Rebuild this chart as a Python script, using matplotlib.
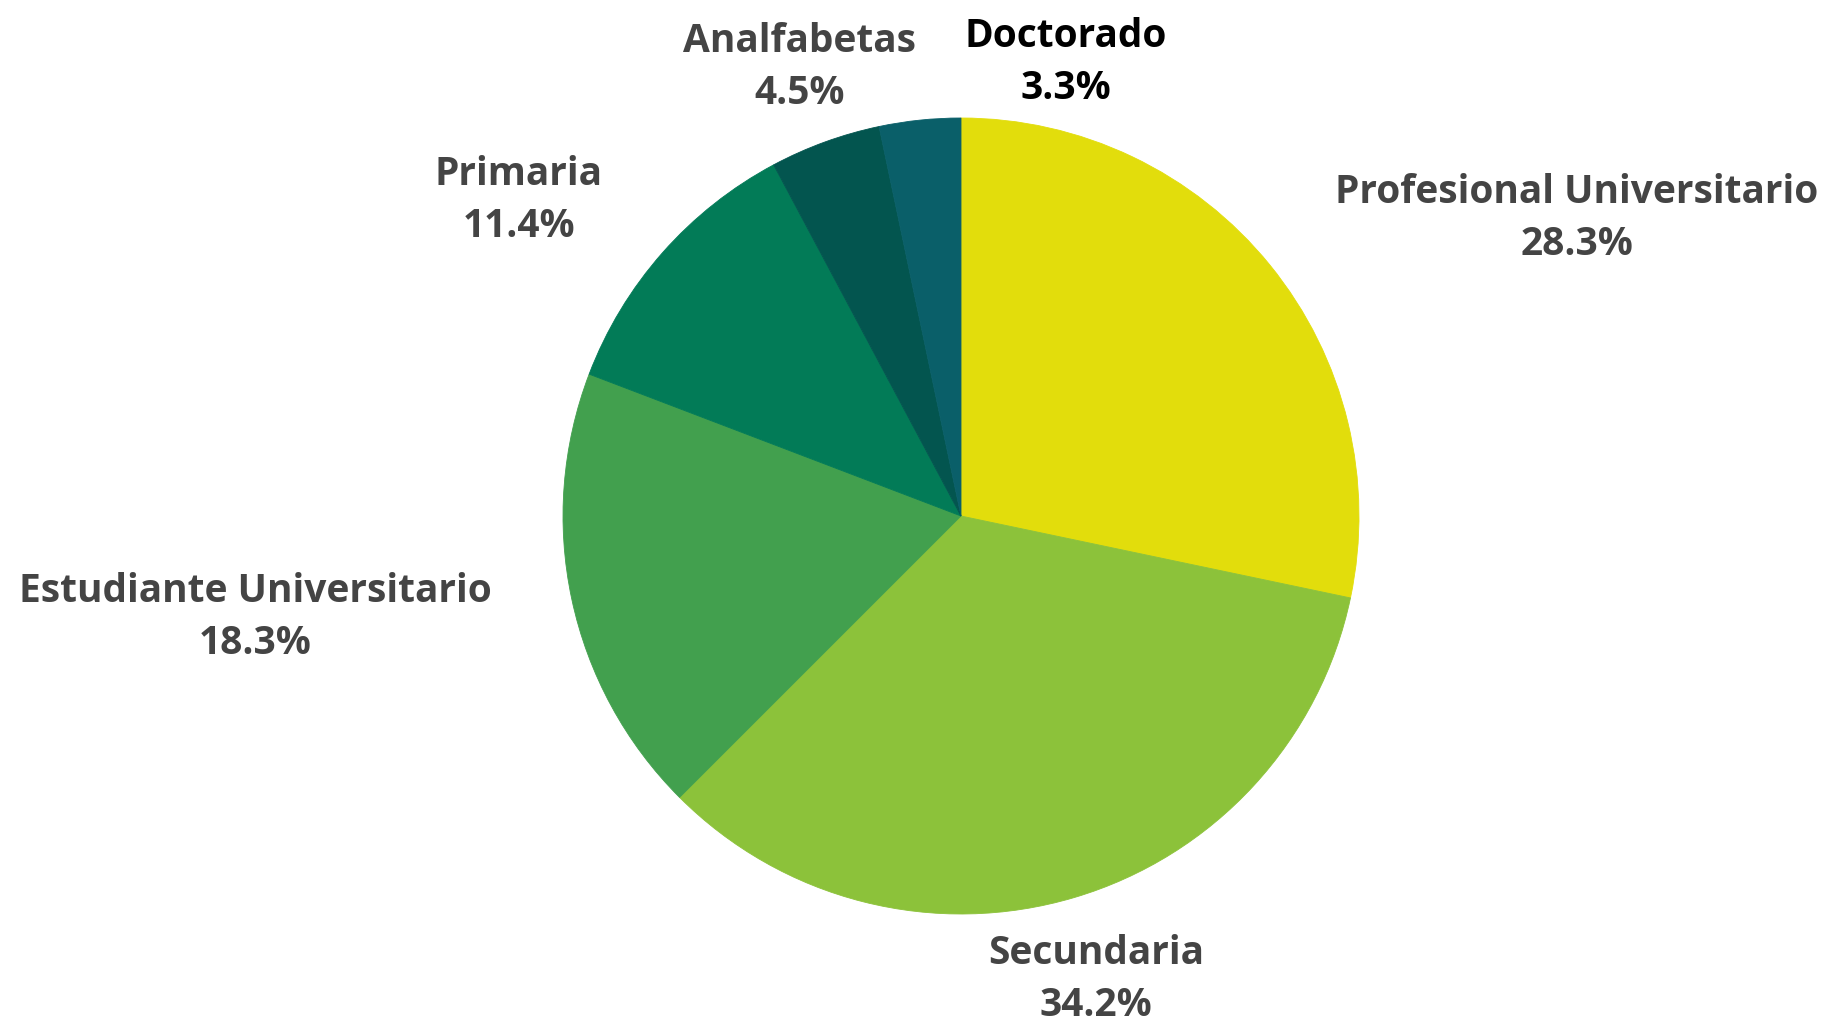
import matplotlib.pyplot as plt

# Nivel educativo (porcentajes)
categories = [
    "Profesional Universitario", "Secundaria", "Estudiante Universitario",
    "Primaria", "Analfabetas", "Doctorado",
]
values = [28.3, 34.2, 18.3, 11.4, 4.5, 3.3]
colors = ["#E2DD0C", "#8CC23A", "#42A04E", "#027B57", "#03554F", "#0A5F69"]
text_colors = ["#444444", "#444444", "#444444", "#444444", "#444444", "#000000"]

# label block centres, in units of the pie radius
label_pos = [
    (1.548, 0.750), (0.339, -1.162), (-1.774, -0.252),
    (-1.111, 0.796), (-0.405, 1.130), (0.264, 1.142),
]

plt.rcParams["font.family"] = ["Open Sans", "DejaVu Sans"]

fig = plt.figure(figsize=(18.25, 10.2), dpi=100)
ax = fig.add_axes([0, 0, 1, 1])

wedges, _ = ax.pie(values, colors=colors, startangle=90, counterclock=False,
                   radius=1.0)
for w in wedges:
    w.set_edgecolor(w.get_facecolor())
    w.set_linewidth(0.6)

for name, val, (x, y), tc in zip(categories, values, label_pos, text_colors):
    ax.text(x, y, f"{name}\n{val:.1f}%", ha="center", va="center",
            fontsize=28, fontweight="bold", color=tc, linespacing=1.44)

ax.set_xlim(-961 / 398, (1825 - 961) / 398)
ax.set_ylim(-(1020 - 517) / 398, 517 / 398)
ax.set_aspect("equal")
ax.axis("off")

fig.savefig("out.png", dpi=100, facecolor="white")
